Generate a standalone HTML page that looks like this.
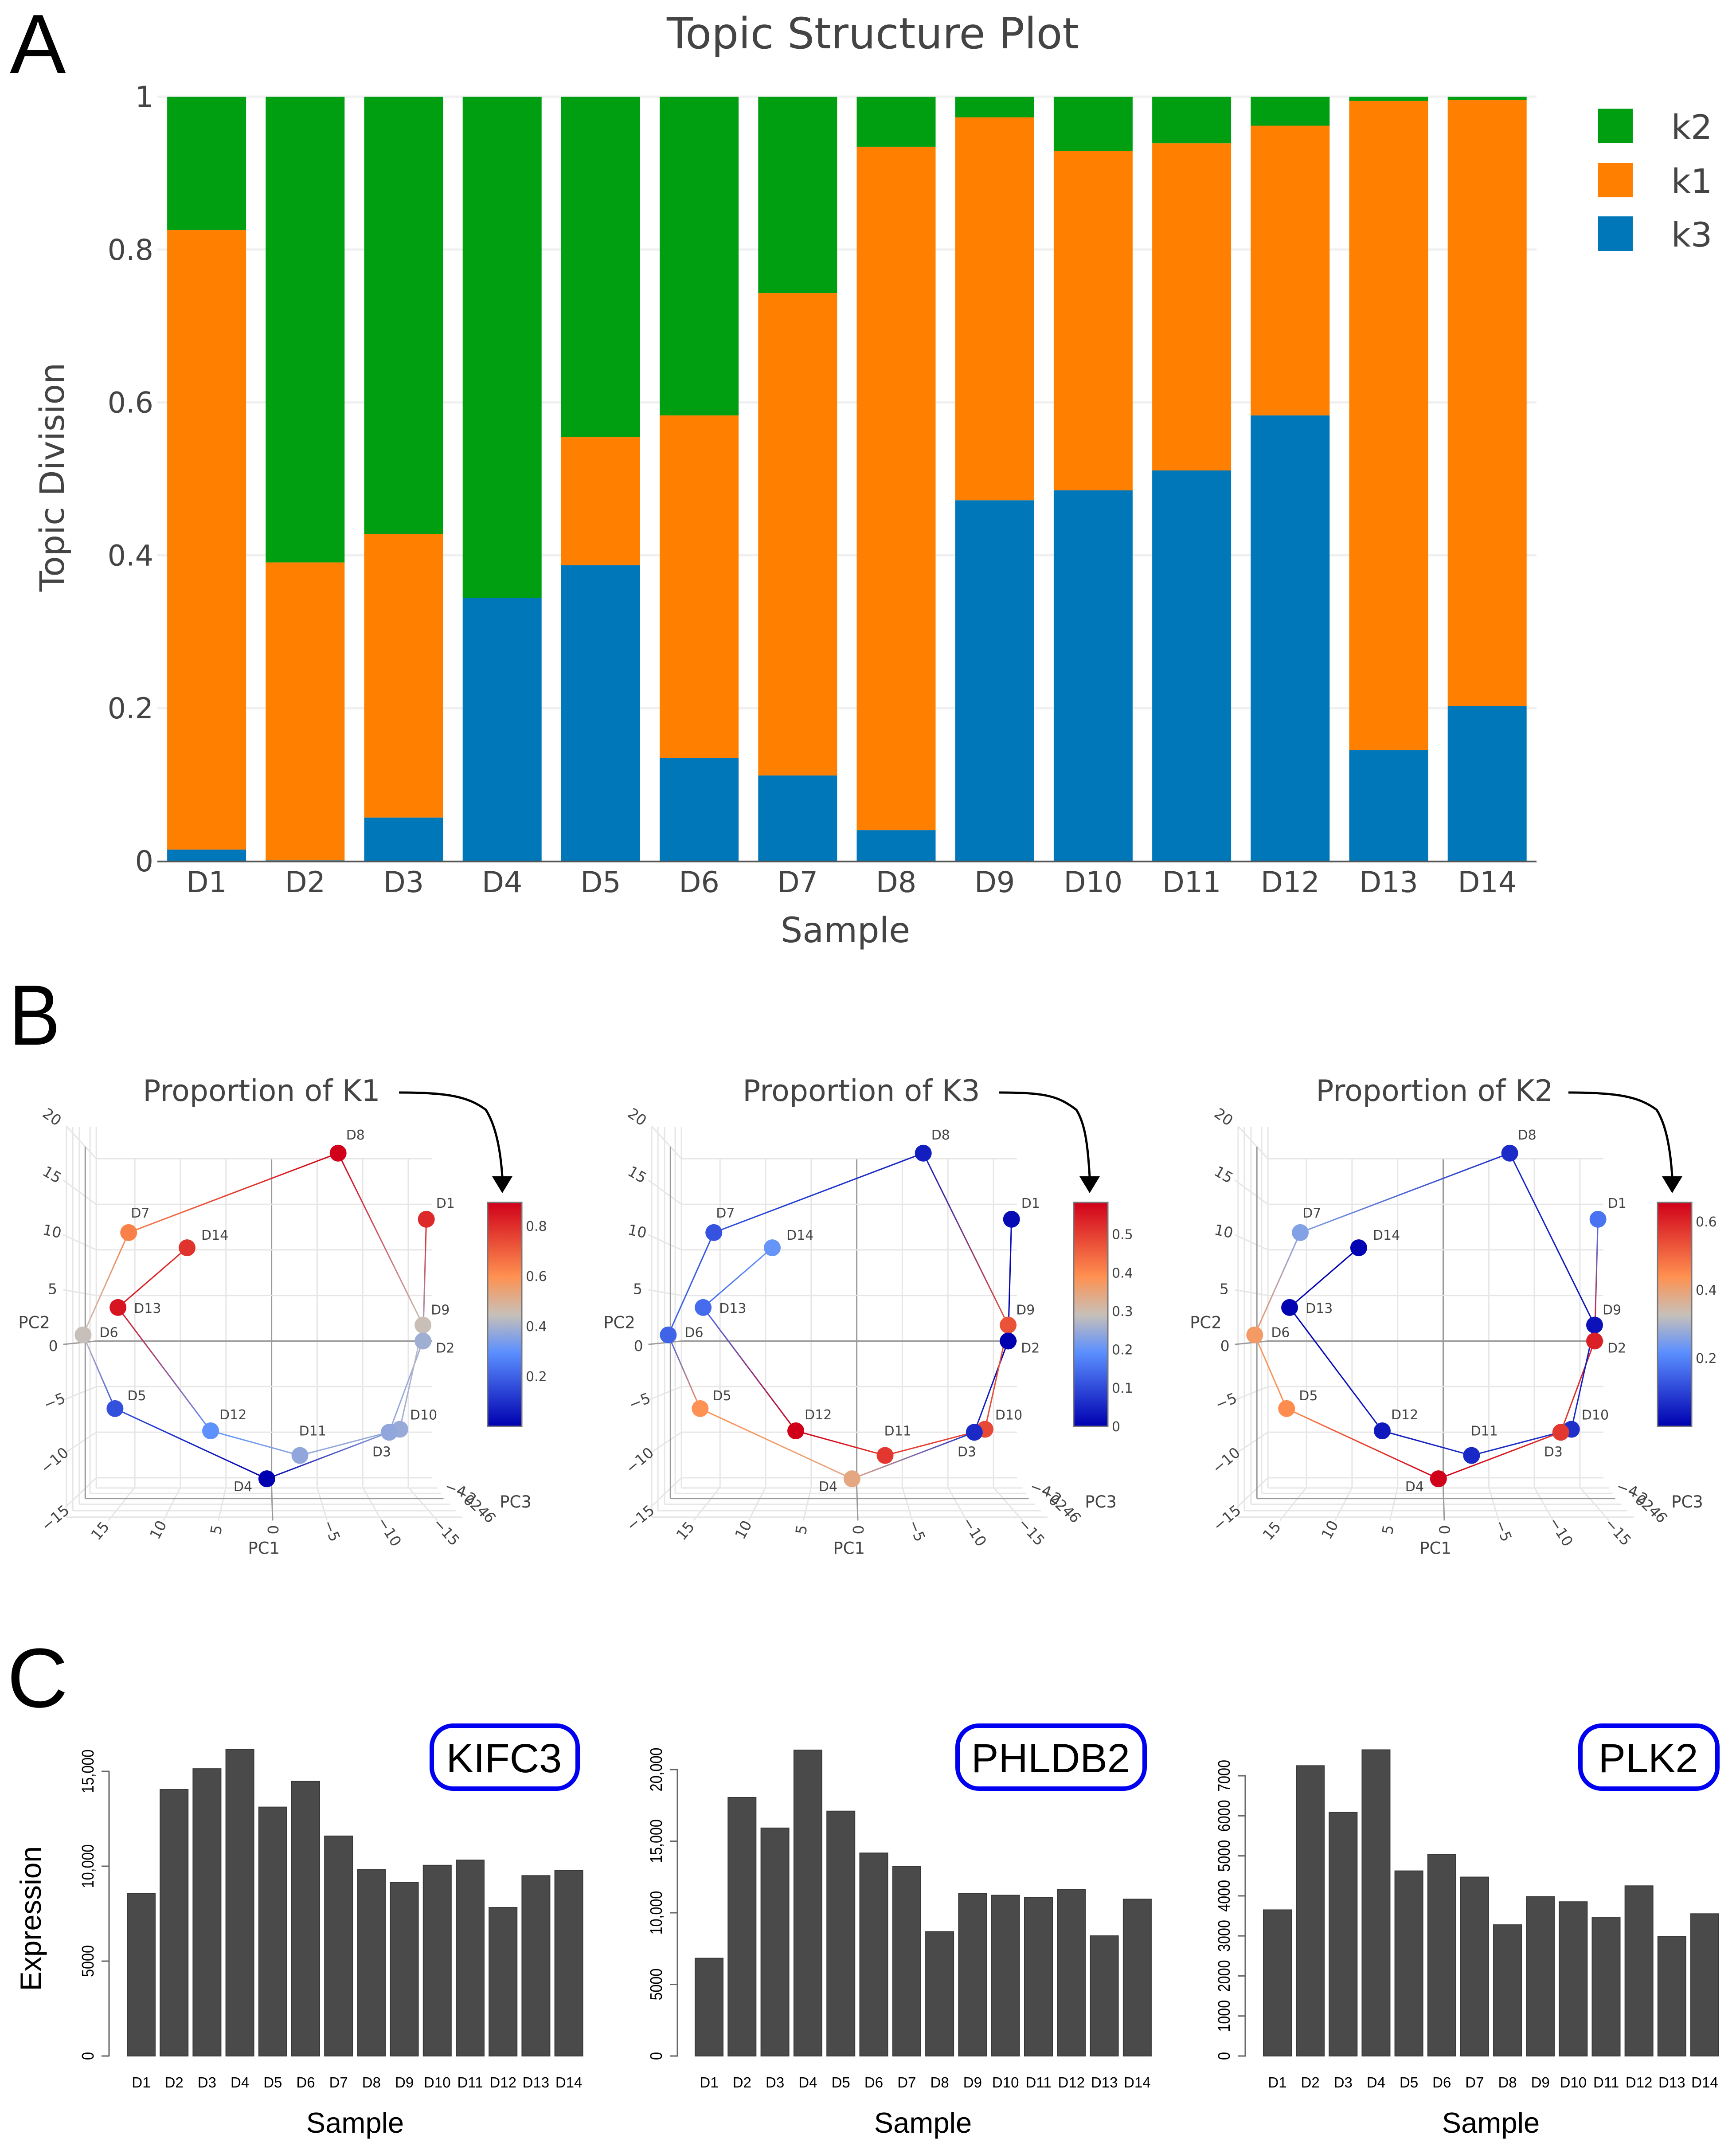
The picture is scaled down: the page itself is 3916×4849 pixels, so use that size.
<!DOCTYPE html>
<html lang="en">
<head>
<meta charset="utf-8">
<title>Topic structure, PCA proportions and gene expression</title>
<style>
html,body{margin:0;padding:0;background:#fff;}
svg{display:block;}
text{font-family:"DejaVu Sans",sans-serif;fill:#444;}
.lib{font-family:"Liberation Sans",sans-serif;fill:#000;}
</style>
</head>
<body>
<svg id="figure" xmlns="http://www.w3.org/2000/svg" width="3916" height="4849" viewBox="0 0 3916 4849">
  <rect width="3916" height="4849" fill="#ffffff"/>
  <defs id="defs"></defs>
  <text class="lib" x="22" y="165" font-size="190">A</text>
  <text class="lib" transform="translate(20,2356) scale(0.9,1)" font-size="193">B</text>
  <text class="lib" x="16" y="3850" font-size="190">C</text>

  <g id="panelA">
    <text x="1969" y="109" font-size="96" text-anchor="middle">Topic Structure Plot</text>
    <text x="1907" y="2125" font-size="78" text-anchor="middle">Sample</text>
    <text transform="translate(144,1076) rotate(-90)" font-size="76" text-anchor="middle">Topic Division</text>
    <rect x="3605" y="245" width="78" height="78" fill="#009f12"/>
    <rect x="3605" y="367" width="78" height="78" fill="#ff7f00"/>
    <rect x="3605" y="488" width="78" height="78" fill="#0077b8"/>
    <text x="3770" y="313" font-size="76">k2</text>
    <text x="3770" y="435" font-size="76">k1</text>
    <text x="3770" y="556" font-size="76">k3</text>
  </g>
  <g id="panelB"></g>
  <g id="panelC"></g>
</svg>
<script>
// ---------- shared categories ----------
var samples = ["D1","D2","D3","D4","D5","D6","D7","D8","D9","D10","D11","D12","D13","D14"];

// ---------- panel A data ----------
var k3Values = [0.015,0.001,0.057,0.344,0.387,0.135,0.112,0.0405,0.472,0.485,0.511,0.583,0.145,0.203];
var k1Values = [0.8105,0.3897,0.371,0,0.168,0.448,0.631,0.894,0.501,0.444,0.428,0.379,0.8495,0.7925];
var k2Values = [0.1745,0.6093,0.572,0.656,0.445,0.417,0.257,0.0655,0.027,0.071,0.061,0.038,0.0055,0.0045];
var topicTicks = [0,0.2,0.4,0.6,0.8,1];
var topicTickLabels = ["0","0.2","0.4","0.6","0.8","1"];

// ---------- panel B data ----------
var pc1Values = [-16.98,-16.61,-12.9,0.52,17.18,20.68,15.68,-7.3,-16.61,-14.07,-3.11,6.69,16.85,9.27];
var pc2Values = [13.36,0,-10.01,-15.11,-7.41,0.67,11.9,20.61,1.75,-9.68,-12.55,-9.85,3.68,10.23];
var markerK1 = [0.81,0.39,0.37,0,0.168,0.445,0.631,0.894,0.45,0.38,0.37,0.30,0.85,0.79];
var markerK3 = [0.015,0,0.057,0.344,0.387,0.135,0.112,0.0405,0.472,0.485,0.511,0.583,0.145,0.203];
var markerK2 = [0.1745,0.609,0.572,0.656,0.445,0.417,0.257,0.0655,0.027,0.071,0.061,0.038,0.0055,0.0045];
var barTicksK1 = [0.2,0.4,0.6,0.8];
var barTicksK3 = [0,0.1,0.2,0.3,0.4,0.5];
var barTicksK2 = [0.2,0.4,0.6];
var pc1Ticks = [15,10,5,0,-5,-10,-15];
var pc2Ticks = [20,15,10,5,0,-5,-10,-15];

// ---------- panel C data ----------
var kifc3Values = [8562,14041,15137,16147,13116,14469,11592,9829,9144,10051,10325,7825,9503,9777];
var phldb2Values = [6825,18050,15918,21361,17098,14172,13220,8685,11361,11224,11066,11633,8390,10952];
var plk2Values = [3650,7251,6083,7648,4623,5036,4469,3277,3982,3852,3455,4250,2985,3552];
var kifc3Ticks = [0,5000,10000,15000];
var kifc3TickLabels = ["0","5000","10,000","15,000"];
var phldb2Ticks = [0,5000,10000,15000,20000];
var phldb2TickLabels = ["0","5000","10,000","15,000","20,000"];
var plk2Ticks = [0,1000,2000,3000,4000,5000,6000,7000];
var plk2TickLabels = ["0","1000","2000","3000","4000","5000","6000","7000"];

var NS = "http://www.w3.org/2000/svg";
function mk(tag, attrs, parent, txt){
  var e = document.createElementNS(NS, tag);
  for (var k in attrs) e.setAttribute(k, attrs[k]);
  if (txt !== undefined) e.textContent = txt;
  parent.appendChild(e);
  return e;
}

// ================= Panel A =================
(function(){
  var g = document.getElementById("panelA");
  var band = 222.2, left = 355, right = 3466;
  function ax(i){ return left + band*(i+0.5); }
  function ay(v){ return 1942 - 1724*v; }
  topicTicks.forEach(function(t,i){
    if (t > 0){
      var gl = mk("line",{x1:left,x2:right,y1:ay(t),y2:ay(t),stroke:"#f0f0f0","stroke-width":5},g);
      
      
    }
    var tl = mk("text",{x:346,y:ay(t)+23,"font-size":65,"text-anchor":"end"},g,topicTickLabels[i]);
    
    
  });
  samples.forEach(function(s,i){
    var parts = [[k3Values[i],"#0077b8","k3"],[k1Values[i],"#ff7f00","k1"],[k2Values[i],"#009f12","k2"]];
    var base = 0;
    parts.forEach(function(p){
      var r = mk("rect",{x:ax(i)-89,width:178,y:ay(base+p[0]),height:Math.max(0,ay(base)-ay(base+p[0])),fill:p[1]},g);
      
      
      base += p[0];
    });
    var tl = mk("text",{x:ax(i),y:2012,"font-size":65,"text-anchor":"middle"},g,s);
    
    
  });
  var axis = mk("line",{x1:left,x2:right,y1:1943,y2:1943,stroke:"#555","stroke-width":4},g);
  
  
})();

// ================= Panel B =================
var colorStops = [[0,"#0000b0"],[0.33,"#5b8fff"],[0.5,"#c8c0b8"],[0.67,"#ff9050"],[1,"#d0001a"]];
function hexRgb(h){ return [parseInt(h.substr(1,2),16),parseInt(h.substr(3,2),16),parseInt(h.substr(5,2),16)]; }
function colorAt(t){
  t = Math.max(0,Math.min(1,t));
  for (var i=1;i<colorStops.length;i++){
    if (t <= colorStops[i][0]){
      var a = colorStops[i-1], b = colorStops[i], f = (t-a[0])/(b[0]-a[0]);
      var ca = hexRgb(a[1]), cb = hexRgb(b[1]);
      return "rgb("+Math.round(ca[0]+(cb[0]-ca[0])*f)+","+Math.round(ca[1]+(cb[1]-ca[1])*f)+","+Math.round(ca[2]+(cb[2]-ca[2])*f)+")";
    }
  }
  return colorStops[colorStops.length-1][1];
}
var labelNudge = {D1:[22,-26],D2:[29,26],D3:[-38,54],D4:[-75,28],D5:[28,-19],D6:[37,5],D7:[5,-34],D8:[18,-31],D9:[18,-24],D10:[23,-22],D11:[-2,-45],D12:[20,-26],D13:[36,12],D14:[32,-18]};
var wallOuter = {"20":[181,183],"15":[172,342],"10":[172,503],"5":[172,665],"0":[172,826],"-5":[172,990],"-10":[181,1143],"-15":[178,1306]};
var floorOuter = {"15":295,"10":445,"5":594,"0":742,"-5":890,"-10":1038,"-15":1190};
var floorRows = [[181,1335,1258],[198,1316,1240],[216,1297,1224],[245,1265,1200],[262,1249,1190]];
var pc2LabelPos = {"20":[142,155,35],"15":[142,325,30],"10":[142,492,12],"5":[143,662,0],"0":[145,830,0],"-5":[148,993,-22],"-10":[148,1167,-40],"-15":[150,1337,-40]};
var pc1LabelPos = {"15":[272,1375,-50],"10":[430,1372,-62],"5":[588,1372,-80],"0":[743,1372,-90],"-5":[903,1375,68],"-10":[1060,1378,58],"-15":[1215,1378,48]};
var pc3Labels = [["\u22124",1240,1252,20],["\u22122",1268,1270,30],["0",1277,1285,40],["2",1296,1300,45],["4",1315,1318,50],["6",1333,1335,55]];

var pcaPanels = [
  {id:"k1",title:"Proportion of K1",titleX:590,ox:612.6,barX:1100,max:0.894,values:markerK1,ticks:barTicksK1,arrow:[900,2464,1096,2503,1133,2653]},
  {id:"k3",title:"Proportion of K3",titleX:1943,ox:1932.6,barX:2422,max:0.583,values:markerK3,ticks:barTicksK3,arrow:[2253,2464,2428,2503,2458,2653]},
  {id:"k2",title:"Proportion of K2",titleX:3236,ox:3255.5,barX:3739,max:0.656,values:markerK2,ticks:barTicksK2,arrow:[3538,2464,3737,2503,3772,2653]}
];

pcaPanels.forEach(function(P,pi){
  var root = document.getElementById("panelB");
  var g = mk("g",{},root);
  
  
  var defs = document.getElementById("defs");
  function pcX(v){ return P.ox - 20.56*v; }
  function pcY(v){ return 3024.5 - 20.56*v; }
  function zx(v){ return P.ox + (v-739)*0.829; }
  function zy(v){ return 2400 + v*0.7653; }
  function gridLine(x1,y1,x2,y2,dark,name){
    var l = mk("line",{x1:x1,y1:y1,x2:x2,y2:y2,stroke:dark?"#9a9a9a":"#e6e6e6","stroke-width":3},g);
    
    
  }
  // side-wall vertical lines and floor rows
  floorRows.forEach(function(f){
    gridLine(zx(f[0]),zy(185),zx(f[0]),zy(f[1]),false,'wall-gridline');
    gridLine(zx(f[0]),zy(f[1]),zx(f[2]),zy(f[1]),false,'floor-gridline');
  });
  // back wall + rays
  pc1Ticks.forEach(function(t){
    gridLine(pcX(t),pcY(20),pcX(t),zy(1247),t===0,'pc1-gridline');
    gridLine(pcX(t),zy(1247),zx(floorOuter[t]),zy(1345),t===0,'pc1-floor-ray');
    var q = pc1LabelPos[t];
    var l = mk("text",{transform:"translate("+zx(q[0])+","+zy(q[1])+") rotate("+q[2]+")","font-size":33,"text-anchor":"middle",dy:"0.36em",fill:"#555"},g,String(t).replace("-","\u2212"));
    
    
  });
  pc2Ticks.forEach(function(t){
    gridLine(zx(262),pcY(t),zx(1175),pcY(t),t===0,'pc2-gridline');
    var w = wallOuter[t];
    gridLine(zx(w[0]),zy(w[1]),zx(262),pcY(t),t===0,'pc2-wall-ray');
    var q = pc2LabelPos[t];
    var l = mk("text",{transform:"translate("+zx(q[0])+","+zy(q[1])+") rotate("+q[2]+")","font-size":33,"text-anchor":"middle",dy:"0.36em",fill:"#555"},g,String(t).replace("-","\u2212"));
    
    
  });
  gridLine(zx(232),zy(243),zx(232),zy(1280),true,'pc2-axis-line');
  gridLine(zx(232),zy(1280),zx(1207),zy(1280),true,'pc1-axis-line');
  pc3Labels.forEach(function(q){
    var l = mk("text",{transform:"translate("+zx(q[1])+","+zy(q[2])+") rotate("+q[3]+")","font-size":33,"text-anchor":"middle",dy:"0.36em",fill:"#555"},g,q[0]);
    
    
  });
  var t1 = mk("text",{x:zx(718),y:zy(1443),"font-size":37,"text-anchor":"middle"},g,"PC1");
  
  
  var t2 = mk("text",{x:zx(93),y:zy(778),"font-size":37,"text-anchor":"middle"},g,"PC2");
  
  
  var t3 = mk("text",{x:zx(1403),y:zy(1307),"font-size":37,"text-anchor":"middle"},g,"PC3");
  
  

  // trajectory segments, each fading between its end-point colours
  for (var i=0;i<samples.length-1;i++){
    var gid = "seg-"+P.id+"-"+i;
    var lg = mk("linearGradient",{id:gid,gradientUnits:"userSpaceOnUse",x1:pcX(pc1Values[i]),y1:pcY(pc2Values[i]),x2:pcX(pc1Values[i+1]),y2:pcY(pc2Values[i+1])},defs);
    mk("stop",{offset:"0","stop-color":colorAt(P.values[i]/P.max)},lg);
    mk("stop",{offset:"1","stop-color":colorAt(P.values[i+1]/P.max)},lg);
    var seg = mk("line",{x1:pcX(pc1Values[i]),y1:pcY(pc2Values[i]),x2:pcX(pc1Values[i+1]),y2:pcY(pc2Values[i+1]),stroke:"url(#"+gid+")","stroke-width":3},g);
    
    
  }
  // markers
  for (var j=samples.length-1;j>=0;j--){
    var c = mk("circle",{cx:pcX(pc1Values[j]),cy:pcY(pc2Values[j]),r:19,fill:colorAt(P.values[j]/P.max)},g);
    
    
  }
  samples.forEach(function(s,k){
    var n = labelNudge[s];
    var l = mk("text",{x:pcX(pc1Values[k])+n[0],y:pcY(pc2Values[k])+n[1],"font-size":30},g,s);
    
    
  });
  // title
  var title = mk("text",{x:P.titleX,y:2483,"font-size":66.5,"text-anchor":"middle"},g,P.title);
  
  
  // arrow
  var a = P.arrow;
  var arrowPath = mk("path",{d:"M"+a[0]+" "+a[1]+" C "+(a[0]+110)+" "+a[1]+" "+(a[2]-40)+" "+(a[3]-30)+" "+a[2]+" "+a[3]+" C "+(a[2]+22)+" "+(a[3]+35)+" "+(a[4]-4)+" "+(a[5]-60)+" "+a[4]+" "+a[5],fill:"none",stroke:"#000","stroke-width":5},g);
  
  
  var head = mk("polygon",{points:(a[4]-23)+","+a[5]+" "+(a[4]+23)+","+a[5]+" "+a[4]+","+(a[5]+38),fill:"#000"},g);
  
  
  // colour bar
  var barGrad = mk("linearGradient",{id:"cb-"+P.id,x1:"0",y1:"1",x2:"0",y2:"0"},defs);
  colorStops.forEach(function(st){ mk("stop",{offset:st[0],"stop-color":st[1]},barGrad); });
  var cbTop = 2712, cbBottom = 3217;
  var cb = mk("rect",{x:P.barX,y:cbTop,width:77,height:cbBottom-cbTop,fill:"url(#cb-"+P.id+")",stroke:"#777","stroke-width":3},g);
  
  
  P.ticks.forEach(function(t){
    var tl = mk("text",{x:P.barX+86,y:cbBottom-(cbBottom-cbTop)*t/P.max,dy:"0.36em","font-size":30,fill:"#444"},g,String(t));
    
    
  });
});

// ================= Panel C =================
var exprPanels = [
  {gene:"KIFC3",values:kifc3Values,ticks:kifc3Ticks,labels:kifc3TickLabels,max:15000,maxY:3995,x0:287,pitch:74.2,axisX:247,sampleX:801,box:[969,1308],textX:1137},
  {gene:"PHLDB2",values:phldb2Values,ticks:phldb2Ticks,labels:phldb2TickLabels,max:20000,maxY:3991,x0:1568,pitch:74.3,axisX:1529,sampleX:2082,box:[2155,2587],textX:2370},
  {gene:"PLK2",values:plk2Values,ticks:plk2Ticks,labels:plk2TickLabels,max:7000,maxY:4005,x0:2850,pitch:74.15,axisX:2810,sampleX:3363,box:[3560,3879],textX:3718}
];
exprPanels.forEach(function(P){
  var root = document.getElementById("panelC");
  var g = mk("g",{},root);
  
  
  var base = 4637;
  function vy(v){ return base - (base-P.maxY)*v/P.max; }
  P.values.forEach(function(v,i){
    var r = mk("rect",{x:P.x0+P.pitch*i,y:vy(v),width:63,height:base-vy(v),fill:"#4a4a4a",stroke:"#383838","stroke-width":2},g);
    
    
    var l = mk("text",{class:"lib",x:P.x0+P.pitch*i+31.5,y:4708,"font-size":33,"text-anchor":"middle"},g,samples[i]);
    
    
  });
  var axis = mk("line",{x1:P.axisX-1,x2:P.axisX-1,y1:vy(P.ticks[0]),y2:vy(P.ticks[P.ticks.length-1]),stroke:"#666","stroke-width":3},g);
  
  
  P.ticks.forEach(function(t,i){
    var tk = mk("line",{x1:P.axisX-18,x2:P.axisX,y1:vy(t),y2:vy(t),stroke:"#666","stroke-width":3},g);
    
    
    var tl = mk("text",{class:"lib",transform:"translate("+(P.axisX-36)+","+vy(t)+") rotate(-90) scale(0.85,1)","font-size":38,"text-anchor":"middle"},g,P.labels[i]);
    
    
  });
  var st = mk("text",{class:"lib",x:P.sampleX,y:4810,"font-size":65,"text-anchor":"middle"},g,"Sample");
  
  
  var box = mk("rect",{x:P.box[0]+5,y:3892,width:P.box[1]-P.box[0]-10,height:142,rx:48,ry:48,fill:"#fff",stroke:"#0000f0","stroke-width":10},g);
  
  
  var gt = mk("text",{class:"lib",x:P.textX,y:3997,"font-size":92,"text-anchor":"middle"},g,P.gene);
  
  
});
var yt = mk("text",{class:"lib",transform:"translate(92,4327) rotate(-90)","font-size":66,"text-anchor":"middle"},document.getElementById("panelC"),"Expression");


</script>
</body>
</html>
